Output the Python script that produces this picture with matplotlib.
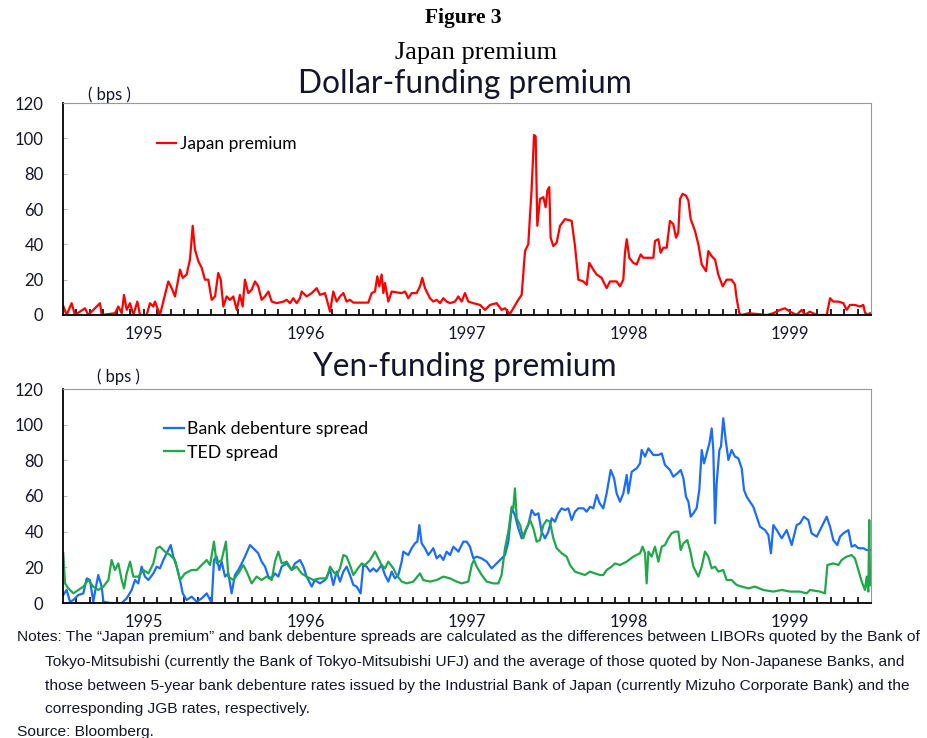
import matplotlib
matplotlib.use("Agg")
import matplotlib.pyplot as plt
import numpy as np

# months counted from Jan 1995 (0 = start of 1995), values in bps
jp_month = [0.02, 0.27, 0.64, 0.89, 1.63, 1.88, 2.75, 2.87, 3.86, 4.11, 4.36, 4.53, 4.73, 4.98,
            5.22, 5.52, 5.72, 6.21, 6.46, 6.71, 6.83, 7.20, 7.45, 7.82, 8.07, 8.32, 8.69, 8.89,
            9.18, 9.43, 9.63, 9.80, 10.05, 10.30, 10.54, 10.79, 11.04, 11.29, 11.53, 11.71, 11.91,
            12.15, 12.40, 12.65, 12.90, 13.14, 13.34, 13.51, 13.76, 14.01, 14.26, 14.50, 14.75,
            15.00, 15.25, 15.50, 15.87, 16.36, 16.61, 16.86, 17.10, 17.35, 17.60, 17.72, 18.09,
            18.47, 18.84, 19.08, 19.46, 19.83,
            20.07, 20.32, 20.57, 20.82, 21.06, 21.31, 21.56, 22.05, 22.67, 22.92, 23.17, 23.34,
            23.49, 23.66, 23.79, 23.91, 24.16, 24.41, 24.78, 25.15, 25.40, 25.64, 25.89, 26.26,
            26.51, 26.68, 26.88, 27.25, 27.50, 27.75, 28.00, 28.24, 28.49, 28.74, 29.11, 29.36,
            29.60, 29.85, 30.10, 30.47, 30.97, 31.34, 31.71, 32.20, 32.57, 32.82, 33.19, 33.44,
            33.81, 34.06, 34.31, 34.55, 34.80, 34.98, 35.10, 35.22, 35.42, 35.67, 35.84, 35.97,
            36.11, 36.21, 36.41, 36.66, 36.91, 37.28, 37.77, 38.02, 38.27, 38.64, 38.89, 39.08,
            39.38, 39.63, 40.00,
            40.12, 40.37, 40.62, 41.11, 41.36, 41.61, 41.73, 41.86, 42.05, 42.35, 42.60, 42.90,
            43.09, 43.84, 43.96, 44.21, 44.38, 44.58, 44.83, 45.07, 45.32, 45.52, 45.69, 45.82,
            46.01, 46.26, 46.44, 46.61, 46.93, 47.18, 47.43, 47.75, 47.92, 48.17, 48.42, 48.66,
            48.99, 49.28, 49.65, 49.90, 50.02, 50.22, 50.40, 50.89, 51.51, 52.25, 52.75, 53.24,
            53.61, 53.99, 54.48, 54.85, 55.10, 55.45, 55.97, 56.34, 56.71, 56.96, 57.20, 57.58,
            57.95, 58.19, 58.44, 58.81, 59.18, 59.43, 59.55, 59.80, 59.93]
jp_bps = [5.1, 0, 6.7, 0, 3.8, 0, 6.7, 0, 1, 4.8, 1, 11.4, 2.9, 6.7,
          0, 7.6, 0, 0, 6.7, 4.8, 7.6, 0, 7.6, 19, 15.2, 10.5, 25.7, 21,
          22.9, 31.4, 50.5, 37, 30.5, 26.7, 20, 20, 8.6, 10.5, 23.8, 20, 4.8,
          10.5, 8.6, 10.5, 2.9, 11.4, 4.8, 20, 12.4, 14.3, 19, 16.2, 8.6,
          10.5, 13.3, 7.6, 6.7, 7.6, 8.6, 6.7, 9.5, 6.7, 9.5, 13.3, 10.5,
          12.4, 15.2, 11.4, 12.4, 1.9,
          13.3, 7.6, 10.5, 12.4, 7.6, 8.6, 7, 7, 7, 12.4, 13.3, 21.9,
          16.2, 22.9, 12.4, 18.1, 7.6, 13.3, 12.8, 12.4, 13.3, 9.5, 12.4, 12.4,
          16.2, 21, 15.2, 9.5, 7.6, 8.6, 6.7, 9.5, 7.6, 6.7, 7.6, 10.5,
          7.6, 12.4, 7.6, 6.7, 5.7, 2.9, 5.7, 6.7, 2.9, 3.8, 0.6, 3.8,
          8.6, 11.4, 36.2, 40, 71.4, 101.9, 101, 50.5, 65.7, 66.7, 61, 70.5,
          72.4, 43.8, 39, 41, 50.5, 54.3, 53.3, 39, 20, 19, 17.1, 29.5,
          25.7, 22.9, 21,
          19, 15.2, 19, 19, 16.2, 20, 35.2, 42.9, 32.4, 29.5, 28.6, 34.3,
          32.4, 32.4, 41.9, 42.9, 35.2, 38.1, 38.1, 53.3, 51.4, 43.8, 46.7, 65.7,
          68.6, 67.6, 64.8, 54.3, 47.6, 40, 28.6, 24.8, 36.2, 33.3, 31.4, 22.9,
          16.2, 20, 20, 17.1, 9.5, 1, 0, 1, 0.6, 0, 1, 2.9,
          3.8, 1.9, 0, 2.9, 0, 1.9, 0, 0, 0, 9.5, 7.6, 7.6,
          6.7, 2.9, 5.7, 5.7, 4.8, 5.7, 1.3, 0, 1]

bd_month = [0.02, 0.27, 0.52, 0.77, 1.14, 1.51, 1.76, 2.00, 2.25, 2.45, 2.62, 2.87, 3.00, 3.49,
            4.36, 4.73, 5.10, 5.35, 5.59, 5.84, 6.09, 6.34, 6.71, 6.96, 7.20, 7.45, 7.70, 8.00,
            8.19, 8.44, 8.69, 8.89, 9.18, 9.55, 9.93, 10.30, 10.67, 11.04, 11.21, 11.41, 11.61,
            11.78, 12.03, 12.28, 12.52, 12.77, 13.02, 13.27, 13.51, 13.89, 14.26, 14.50, 14.75,
            15.00, 15.25, 15.50, 15.74, 15.99, 16.24, 16.61, 16.98, 17.23, 17.60, 17.85, 18.09,
            18.47, 18.71, 19.08, 19.46, 19.83,
            20.07, 20.32, 20.57, 20.82, 21.06, 21.31, 21.56, 21.81, 22.10, 22.30, 22.55, 22.80,
            23.04, 23.29, 23.66, 23.91, 24.16, 24.41, 24.65, 24.90, 25.15, 25.27, 25.64, 25.89,
            26.14, 26.31, 26.46, 26.63, 26.88, 27.13, 27.50, 27.75, 28.00, 28.24, 28.49, 28.74,
            28.99, 29.36, 29.73, 29.98, 30.22, 30.47, 30.72, 31.09, 31.46, 31.83, 32.20, 32.57,
            32.82, 33.07, 33.32, 33.56, 33.81, 34.06, 34.31, 34.55, 34.80, 35.05, 35.30, 35.54,
            35.79, 36.04, 36.29, 36.53, 36.78, 37.03, 37.28, 37.52, 37.77, 38.02, 38.27, 38.64,
            38.89, 39.13, 39.38, 39.63, 39.85,
            40.12, 40.37, 40.67, 40.92, 41.11, 41.36, 41.61, 41.86, 41.98, 42.23, 42.60, 42.85,
            42.97, 43.22, 43.47, 43.84, 44.21, 44.46, 44.70, 45.07, 45.32, 45.62, 45.87, 46.07,
            46.26, 46.44, 46.61, 46.81, 47.05, 47.25, 47.43, 47.60, 47.80, 48.00, 48.17, 48.29,
            48.42, 48.54, 48.74, 48.86, 49.03, 49.21, 49.41, 49.65, 49.90, 50.15, 50.40, 50.57,
            50.77, 51.01, 51.26, 51.51, 51.76, 52.13, 52.38, 52.57, 52.75, 53.00, 53.37, 53.74,
            54.11, 54.48, 54.73, 55.02, 55.35, 55.59, 55.97, 56.34, 56.71, 56.96, 57.20, 57.50,
            57.70, 57.95, 58.32, 58.56, 58.81, 59.06, 59.43, 59.68, 59.93]
bd_bps = [4.5, 7.3, 0.7, 1.7, 4.5, 5.4, 13.8, 12.9, 0.7, 9.2, 15.7, 9.2, 0.7, 0,
          0, 2.6, 7.3, 12.9, 11, 20.4, 14.8, 12.9, 16.6, 20.4, 19.4, 24.1, 27.9, 32.5,
          26, 20.4, 12.9, 5.4, 1.7, 3.6, 0.7, 2.6, 5.4, 0, 24.1, 26, 18.5,
          23.2, 14.8, 16.6, 5.4, 15.7, 18.5, 22.2, 26, 32.5, 29.7, 27.9, 23.2,
          20.4, 14.8, 13.8, 16.6, 14.8, 20.4, 22.2, 18.5, 22.2, 24.1, 20.4, 14.8,
          9.2, 12.9, 11, 12.9, 18.5,
          10.1, 17.6, 12, 17.6, 20.4, 15.7, 10.1, 9.2, 5.4, 21.3, 20.4, 17.6,
          19.4, 17.6, 21.3, 15.7, 12, 17.6, 13.8, 15.7, 23.2, 28.8, 26.9, 30.7,
          33.5, 34.4, 43.7, 33.5, 30.7, 26.9, 30.7, 25, 26.9, 24.1, 28.8, 26.9,
          31.6, 28.8, 34.4, 34.4, 31.6, 25, 26, 25, 23.2, 19.4, 22.2, 25,
          26.9, 34.4, 53.1, 49.3, 41.9, 36.3, 40, 43.7, 52.1, 49.3, 50.3, 40,
          36.3, 40, 47.5, 45.6, 50.3, 53.1, 52.1, 53.1, 46.5, 51.2, 53.1, 53.1,
          51.2, 54, 53.1, 60.6, 55.9,
          53.1, 61.5, 74.6, 69.9, 61.5, 56.8, 61.5, 71.8, 61.5, 73.6, 75.5, 78.3,
          85.8, 82.1, 86.7, 83, 83, 83.9, 77.4, 74.6, 70.8, 72.7, 74.6, 69.9,
          59.6, 56.8, 48.4, 50.3, 53.1, 63.4, 85.8, 78.3, 83.9, 89.5, 97.9, 85.8,
          44.7, 67.1, 85.8, 87.7, 103.6, 91.4, 80.2, 85.8, 82.1, 81.1, 75.5, 63.4,
          59.6, 56.8, 54, 48.4, 42.8, 40.9, 38.1, 27.9, 43.7, 40.9, 36.3, 40.9,
          32.5, 43.7, 44.7, 48.4, 46.5, 39.1, 37.2, 42.8, 48.4, 42.8, 35.3, 32.5,
          37.2, 39.1, 40.9, 31.6, 32.5, 30.7, 30.7, 29.7, 29.7]

ted_month = [0.02, 0.15, 0.40, 0.77, 1.14, 1.51, 1.88, 2.25, 2.62, 3.00, 3.37, 3.61, 3.86, 4.11,
             4.36, 4.53, 4.73, 4.98, 5.22, 5.59, 5.97, 6.34, 6.71, 6.96, 7.20, 7.57, 7.95, 8.32,
             8.69, 9.06, 9.55, 9.93, 10.30, 10.67, 10.92, 11.21, 11.41, 11.78, 12.10, 12.28, 12.65,
             13.02, 13.39, 13.64, 14.01, 14.38, 14.75, 15.12, 15.50, 15.74, 15.99, 16.24, 16.61,
             16.98, 17.35, 17.72, 18.09, 18.59, 19.08, 19.58, 19.83,
             20.07, 20.32, 20.57, 20.82, 21.06, 21.31, 21.56, 21.81, 22.18, 22.43, 22.80, 23.17,
             23.42, 23.66, 23.91, 24.16, 24.53, 24.78, 25.15, 25.52, 26.01, 26.51, 26.75, 27.25,
             27.75, 28.24, 28.74, 29.23, 29.60, 30.10, 30.35, 30.52, 30.72, 31.09, 31.46, 31.96,
             32.33, 32.57, 32.82, 33.07, 33.32, 33.44, 33.56, 33.69, 33.94, 34.18, 34.43, 34.68,
             34.93, 35.17, 35.42, 35.67, 35.92, 36.16, 36.41, 36.66, 37.03, 37.40, 37.65, 38.02,
             38.39, 38.76, 39.13, 39.50, 39.88,
             40.12, 40.37, 40.74, 40.99, 41.36, 41.86, 42.35, 42.85, 43.04, 43.22, 43.34, 43.47,
             43.71, 43.96, 44.21, 44.46, 44.70, 44.95, 45.20, 45.45, 45.69, 45.87, 46.07, 46.36,
             46.56, 46.81, 47.18, 47.43, 47.67, 47.92, 48.17, 48.42, 48.66, 49.03, 49.28, 49.65,
             50.02, 50.40, 50.89, 51.39, 52.00, 52.75, 53.37, 53.99, 54.73, 55.22, 55.47, 56.21,
             56.58, 56.76, 57.20, 57.58, 57.82, 58.19, 58.56, 58.81, 59.06, 59.31, 59.55, 59.68,
             59.80, 59.87, 59.93]
ted_bps = [27.9, 11, 8.2, 5.4, 7.3, 9.2, 12.9, 9.2, 7.3, 9.2, 12.9, 24.1, 18.5, 22.2,
           12.9, 8.2, 16.6, 23.2, 14.8, 14.8, 18.5, 16.6, 22.2, 30.7, 31.6, 28.8, 26.9, 24.1,
           12.9, 16.6, 18.5, 18.5, 21.3, 24.1, 21.3, 34.4, 22.2, 24.1, 34.4, 14.8, 12.9,
           16.6, 21.3, 17.6, 11, 14.8, 12.9, 14.8, 12.9, 23.2, 28.8, 22.2, 23.2,
           18.5, 20.4, 16.6, 14.8, 12.9, 13.8, 13.8, 20.4,
           17.6, 15.7, 19.4, 26.9, 26, 21.3, 15.7, 18.5, 22.2, 21.3, 24.1, 28.8,
           25, 21.3, 19.4, 23.2, 19.4, 15.7, 12, 11, 12, 16.6, 12.9, 12,
           12.9, 14.8, 13.8, 12, 11, 12, 21.3, 24.1, 20.4, 15.7, 12, 11,
           11, 15.7, 30.7, 40, 54, 53.1, 64.3, 47.5, 43.7, 36.3, 41.9, 46.5,
           41.9, 34.4, 35.3, 43.7, 46.5, 45.6, 36.3, 30.7, 27.9, 26, 21.3, 17.6,
           16.6, 15.7, 17.6, 16.6, 15.7,
           15.7, 18.5, 20.4, 22.2, 21.3, 23.2, 26, 27.9, 31.6, 27.9, 11, 28.8,
           26, 31.6, 23.2, 31.6, 32.5, 36.3, 39.1, 40, 40, 29.7, 33.5, 35.3,
           29.7, 20.4, 14.8, 20.4, 28.8, 26, 19.4, 20.4, 17.6, 18.5, 12.9, 12.9,
           10.1, 9.2, 8.2, 9.2, 7.3, 6.4, 7.3, 6.4, 6.4, 5.4, 7.3, 6.4,
           5.4, 21.3, 22.2, 21.3, 24.1, 26, 26.9, 25, 18.5, 12, 7.3, 14.8,
           6.4, 46.5, 10]

year_labels = ["1995", "1996", "1997", "1998", "1999"]
y_ticks = [0, 20, 40, 60, 80, 100, 120]

notes = [
    "Notes: The \u201cJapan premium\u201d and bank debenture spreads are calculated as the differences "
    "between LIBORs quoted by the Bank of",
    "Tokyo-Mitsubishi (currently the Bank of Tokyo-Mitsubishi UFJ) and the average of those quoted "
    "by Non-Japanese Banks, and",
    "those between 5-year bank debenture rates issued by the Industrial Bank of Japan (currently "
    "Mizuho Corporate Bank) and the",
    "corresponding JGB rates, respectively.",
]
source = "Source: Bloomberg."

SANS = ["Lato", "DejaVu Sans"]
NARROW = ["Liberation Sans Narrow", "Liberation Sans", "DejaVu Sans"]
TXT = "#15152a"


def to_year(months):
    return 1995 + np.asarray(months) / 12.0


def style_axis(ax):
    ax.set_xlim(1995, 2000)
    ax.set_ylim(0, 120)
    ax.set_yticks(y_ticks)
    ax.set_yticklabels([str(v) for v in y_ticks], family=SANS, fontsize=12, color=TXT)
    ax.tick_params(axis="y", direction="in", length=3, color="#bbbbbb", pad=14)
    # labels sit in the middle of each year, monthly ticks along the base
    ax.set_xticks([y + 0.5 for y in range(1995, 2000)])
    ax.set_xticklabels(year_labels, family=SANS, fontsize=12, color=TXT)
    ax.set_xticks(1995 + np.arange(1, 60) / 12.0, minor=True)
    ax.tick_params(axis="x", which="both", direction="in", length=4, width=1.2,
                   color="black", pad=8)
    for side in ("top", "right"):
        ax.spines[side].set_color("#999999")
    for side in ("left", "bottom"):
        ax.spines[side].set_color("black")
        ax.spines[side].set_linewidth(1.3)


fig = plt.figure(figsize=(9.27, 7.38), dpi=100)

ax1 = fig.add_axes([63 / 927, 1 - 315 / 738, 808 / 927, 212 / 738])
ax1.plot(to_year(jp_month), jp_bps, color="#ff0000", lw=1.6, label="Japan premium")
style_axis(ax1)
ax1.legend(loc="upper left", bbox_to_anchor=(0.106, 0.885), frameon=False,
           handlelength=1.1, handletextpad=0.2, borderpad=0,
           prop={"family": SANS, "size": 12.5})

ax2 = fig.add_axes([63 / 927, 1 - 603 / 738, 808 / 927, 214 / 738])
ax2.plot(to_year(bd_month), bd_bps, color="#1a6cff", lw=1.6, label="Bank debenture spread")
ax2.plot(to_year(ted_month), ted_bps, color="#1fa84a", lw=1.6, label="TED spread")
style_axis(ax2)
ax2.legend(loc="upper left", bbox_to_anchor=(0.114, 0.89), frameon=False,
           handlelength=1.1, handletextpad=0.2, borderpad=0, labelspacing=0.4,
           prop={"family": SANS, "size": 12.8})

fig.text(0.5, 1 - 18 / 738, "Figure 3", ha="center", va="center", family="Liberation Serif",
         fontsize=15.5, weight="bold")
fig.text(476 / 927, 1 - 53 / 738, "Japan premium", ha="center", va="center",
         family="Liberation Serif", fontsize=19)
fig.text(465 / 927, 1 - 84 / 738, "Dollar-funding premium", ha="center", va="center",
         family=SANS, fontsize=22.8, color=TXT)
fig.text(465 / 927, 1 - 367 / 738, "Yen-funding premium", ha="center", va="center",
         family=SANS, fontsize=22.8, color=TXT)
fig.text(109 / 927, 1 - 95 / 738, "( bps )", ha="center", va="center", family=SANS,
         fontsize=12, color=TXT)
fig.text(118 / 927, 1 - 377 / 738, "( bps )", ha="center", va="center", family=SANS,
         fontsize=12, color=TXT)

note_y = [637, 662, 686, 709]
note_x = [17, 45, 45, 45]
for txt, x, y in zip(notes, note_x, note_y):
    fig.text(x / 927, 1 - y / 738, txt, ha="left", va="center", family=NARROW,
             fontsize=11.15, color=TXT)
fig.text(17 / 927, 1 - 732 / 738, source, ha="left", va="center", family=NARROW,
         fontsize=11.15, color=TXT)

fig.savefig("out.png", dpi=100)
